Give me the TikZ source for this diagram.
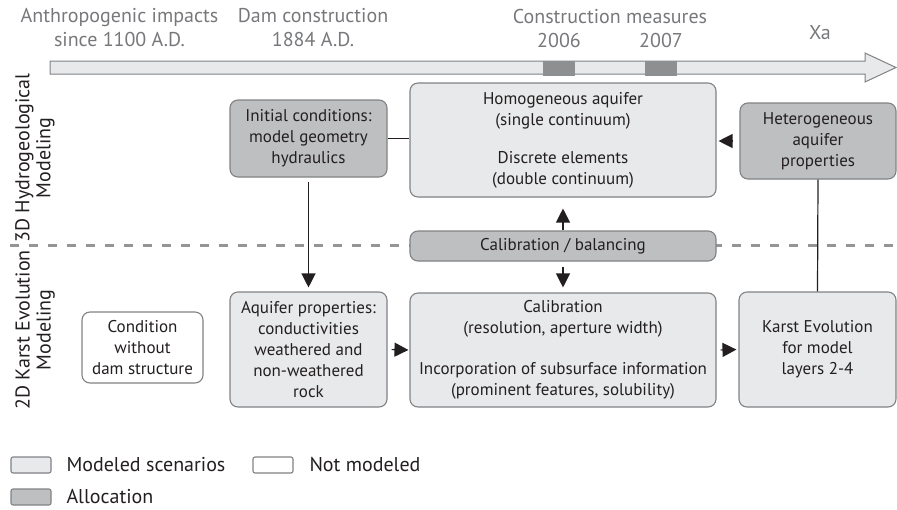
\documentclass[tikz,border=0pt]{standalone}
\usepackage{fontspec}
\setmainfont{PT Sans}
\usetikzlibrary{arrows.meta}
\definecolor{boxlight}{HTML}{E8E9EA}
\definecolor{boxdark}{HTML}{BEBFC1}
\definecolor{boxline}{HTML}{808285}
\definecolor{timegray}{HTML}{77787B}
\definecolor{inkblack}{HTML}{231F20}

\begin{document}
\begin{tikzpicture}[x=1pt, y=-1pt,
    every node/.style={font=\fontsize{17}{21}\selectfont, text=inkblack, align=center},
    box/.style={draw=boxline, line width=1.1pt, rounded corners=8pt, inner sep=0pt},
    lightbox/.style={box, fill=boxlight},
    darkbox/.style={box, fill=boxdark},
    whitebox/.style={box, fill=white},
    bigtext/.style={font=\fontsize{20}{24}\selectfont},
    timetext/.style={bigtext, text=timegray},
    link/.style={draw=inkblack, line width=1.2pt},
    flow/.style={link, -{Triangle[length=14pt, width=14pt]}}]
    \useasboundingbox (0,0) rectangle (897,509);
    % Draw the time line
    \draw[boxline, fill=boxlight, line width=1pt] (50,61) -- (865,61) -- (865,53) -- (896,67.5)
        -- (865,82) -- (865,74) -- (50,74) -- cycle;
    \foreach \yr/\x in {2006/559, 2007/661} {
        \node[fill=boxdark!75!black, minimum width=32pt, minimum height=15pt, inner sep=0pt] (m\yr) at (\x,68) {};
        \node[timetext] (y\yr) at (\x,40) {\yr};
    }
    \node[timetext] (impacts) at (119.5,28) {Anthropogenic impacts\\since 1100 A.D.};
    \node[timetext] (dam) at (313,28) {Dam construction\\1884 A.D.};
    \node[timetext] (measures) at (610,16) {Construction measures};
    \node[timetext] (xa) at (820,33) {Xa};
    % Draw the border between the two models
    \draw[boxline!85, line width=3pt, dash pattern=on 9pt off 10pt] (10,245) -- (897,245);
    \node[rotate=90, font=\fontsize{20}{21}\selectfont] (hydro) at (35,158) {3D Hydrogeological\\Modeling};
    \node[rotate=90, font=\fontsize{20}{21}\selectfont] (karst) at (35,330) {2D Karst Evolution\\Modeling};
    % Draw the boxes
    \node[darkbox, minimum width=157pt, minimum height=77pt] (init) at (308.5,138.5)
        {Initial conditions:\\model geometry\\hydraulics};
    \node[lightbox, minimum width=306pt, minimum height=114pt] (homog) at (563,140)
        {Homogeneous aquifer\\(single continuum)\\[17pt]Discrete elements\\(double continuum)};
    \node[darkbox, minimum width=156pt, minimum height=76pt] (hetero) at (818,141)
        {Heterogeneous\\aquifer\\properties};
    \node[darkbox, minimum width=306pt, minimum height=30pt] (calbal) at (563,246)
        {Calibration / balancing};
    \node[whitebox, minimum width=121pt, minimum height=71pt] (cond) at (142.5,347.5)
        {Condition\\without\\dam structure};
    \node[lightbox, minimum width=157pt, minimum height=115pt] (aquifer) at (308.5,349.5)
        {Aquifer properties:\\conductivities\\weathered and\\non-weathered\\rock};
    \node[lightbox, minimum width=306pt, minimum height=114pt] (calib) at (563,350)
        {Calibration\\(resolution, aperture width)\\[20pt]Incorporation of subsurface information\\(prominent features, solubility)};
    \node[lightbox, minimum width=157pt, minimum height=115pt] (evol) at (817.5,349.5)
        {Karst Evolution\\for model\\layers 2-4};
    % Draw the connectors
    \draw[link] (init.east) -- (init.east -| homog.west);
    \draw[link] (hetero.south) -- (evol.north);
    \draw[flow, shorten <=7pt, shorten >=2pt] (hetero.west) -- (hetero.west -| homog.east);
    \draw[flow, shorten <=4pt, shorten >=4pt] (init.south) -- (aquifer.north);
    \draw[flow, shorten <=4pt, shorten >=1pt] (aquifer.east) -- (calib.west);
    \draw[flow, shorten <=4pt, shorten >=2pt] (calib.east) -- (evol.west);
    \draw[flow, shorten >=11pt] (calbal.north) -- (homog.south);
    \draw[flow, shorten <=5pt, shorten >=5pt] (calbal.south) -- (calib.north);
    % Draw the legend
    \node[lightbox, rounded corners=2pt, minimum width=40pt, minimum height=16pt] (keymodel) at (31,465) {};
    \node[bigtext, anchor=west] (keymodeltext) at (63,465) {Modeled scenarios};
    \node[whitebox, rounded corners=2pt, minimum width=40pt, minimum height=16pt] (keynot) at (273,465) {};
    \node[bigtext, anchor=west] (keynottext) at (306,465) {Not modeled};
    \node[darkbox, rounded corners=2pt, minimum width=40pt, minimum height=16pt] (keyalloc) at (31,497) {};
    \node[bigtext, anchor=west] (keyalloctext) at (63,497) {Allocation};
\end{tikzpicture}
\end{document}
